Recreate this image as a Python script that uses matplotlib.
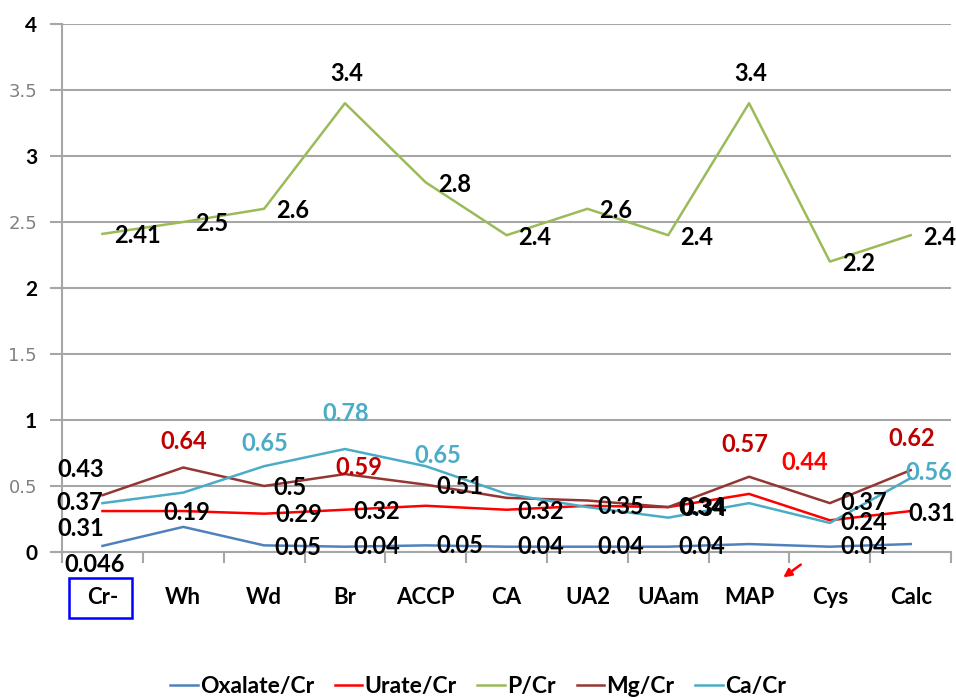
import matplotlib
matplotlib.use('Agg')
import matplotlib.pyplot as plt
from matplotlib.patches import Rectangle, FancyArrowPatch
import numpy as np

### data ----

groups = ['Cr-', 'Wh', 'Wd', 'Br', 'ACCP', 'CA', 'UA2', 'UAam', 'MAP', 'Cys', 'Calc']

oxalate = [0.046, 0.19, 0.05, 0.04, 0.05, 0.04, 0.04, 0.04, 0.06, 0.04, 0.06]
urate = [0.31, 0.31, 0.29, 0.32, 0.35, 0.32, 0.35, 0.34, 0.44, 0.24, 0.31]
phos = [2.41, 2.5, 2.6, 3.4, 2.8, 2.4, 2.6, 2.4, 3.4, 2.2, 2.4]
mg = [0.43, 0.64, 0.5, 0.59, 0.51, 0.41, 0.39, 0.34, 0.57, 0.37, 0.62]
ca = [0.37, 0.45, 0.65, 0.78, 0.65, 0.44, 0.34, 0.26, 0.37, 0.22, 0.56]

# labelled points: (series, index, dx, dy in pixels, colour)
labels = [
    ('mg', 0, -22, 26, 'black'), ('ca', 0, -23, 1, 'black'),
    ('urate', 0, -22, -17, 'black'), ('oxalate', 0, -8, -19, 'black'),
    ('mg', 1, 0, 26, '#C00000'), ('oxalate', 1, 4, 14, 'black'),
    ('ca', 2, 1, 23, '#4BACC6'), ('mg', 2, 26, -2, 'black'),
    ('urate', 2, 35, -1, 'black'), ('oxalate', 2, 34, -2, 'black'),
    ('ca', 3, 1, 36, '#4BACC6'), ('mg', 3, 14, 7, '#C00000'),
    ('urate', 3, 32, -2, 'black'), ('oxalate', 3, 32, 0, 'black'),
    ('ca', 4, 12, 11, '#4BACC6'), ('mg', 4, 34, -2, 'black'),
    ('oxalate', 4, 34, 0, 'black'),
    ('urate', 5, 34, -2, 'black'), ('oxalate', 5, 34, 0, 'black'),
    ('urate', 6, 33, -1, 'black'), ('oxalate', 6, 33, 0, 'black'),
    ('mg', 7, 33, 0, 'black'), ('urate', 7, 35, -1, 'black'),
    ('oxalate', 7, 34, 0, 'black'),
    ('mg', 8, -4, 32, '#C00000'), ('urate', 8, 56, 31, '#FF0000'),
    ('mg', 9, 34, 1, 'black'), ('urate', 9, 34, -2, 'black'),
    ('oxalate', 9, 34, 0, 'black'),
    ('mg', 10, 1, 32, '#C00000'), ('ca', 10, 18, 6, '#4BACC6'),
    ('urate', 10, 21, -2, 'black'),
]

series = {'oxalate': oxalate, 'urate': urate, 'phos': phos, 'mg': mg, 'ca': ca}

### plot ----

plt.rcParams['font.family'] = ['Lato', 'DejaVu Sans']

fig = plt.figure(figsize=(9.56, 6.98), dpi=100)
ax = fig.add_axes([0.0649, 0.2092, 0.93, 0.7564])

x = np.arange(len(groups))
ax.plot(x, oxalate, color='#4F81BD', lw=1.8, label='Oxalate/Cr')
ax.plot(x, urate, color='#FF0000', lw=1.8, label='Urate/Cr')
ax.plot(x, phos, color='#9BBB59', lw=1.8, label='P/Cr')
ax.plot(x, mg, color='#943634', lw=1.8, label='Mg/Cr')
ax.plot(x, ca, color='#4BACC6', lw=1.8, label='Ca/Cr')

# P/Cr labels: right of the point, the two peaks above it
for i, v in enumerate(phos):
    if v >= 3.4:
        ax.annotate(f'{v:g}', (x[i], v), xytext=(2, 30), textcoords='offset pixels',
                    ha='center', va='center', fontsize=17, fontweight='bold')
    else:
        ax.annotate(f'{v:g}', (x[i], v), xytext=(12, -2), textcoords='offset pixels',
                    ha='left', va='center', fontsize=17, fontweight='bold')

for name, i, dx, dy, col in labels:
    v = series[name][i]
    ax.annotate(f'{v:g}', (x[i], v), xytext=(dx, dy), textcoords='offset pixels',
                ha='center', va='center', fontsize=17, fontweight='bold', color=col)

ax.set_xlim(-0.5, len(groups) - 0.5)
ax.set_ylim(0, 4)
yt = np.arange(0, 4.01, 0.5)
ax.set_yticks(yt)
ax.set_yticklabels([f'{t:g}' for t in yt])
for t, lab in zip(yt, ax.get_yticklabels()):
    if t % 1 == 0:
        lab.set_fontweight('bold')
        lab.set_fontsize(15)
    else:
        lab.set_color('#808080')
        lab.set_fontfamily('DejaVu Sans')
        lab.set_fontsize(13)
ax.tick_params(axis='y', length=9, width=1.5, color='#A6A6A6', pad=9)
ax.yaxis.grid(True, color='#A6A6A6', lw=1.5)
ax.set_axisbelow(True)

ax.set_xticks(x)
ax.set_xticklabels(groups, fontsize=16, fontweight='bold')
ax.set_xticks(np.arange(-0.5, len(groups)), minor=True)
ax.tick_params(axis='x', which='major', length=0, pad=25)
ax.tick_params(axis='x', which='minor', length=8, width=1.5, color='#A6A6A6')

for s in ['top', 'right']:
    ax.spines[s].set_visible(False)
for s in ['left', 'bottom']:
    ax.spines[s].set_color('#A6A6A6')
    ax.spines[s].set_linewidth(1.5)

# box round the control group label
fig.patches.append(Rectangle((69 / 956, 1 - 618 / 698), 63 / 956, 40 / 698,
                             transform=fig.transFigure, fill=False,
                             edgecolor='#0000FF', lw=1.8))
# small red arrow by MAP
fig.add_artist(FancyArrowPatch(
    (803 / 956, 1 - 563 / 698), (781 / 956, 1 - 579 / 698),
    transform=fig.transFigure, arrowstyle='-|>', mutation_scale=12,
    color='#FF0000', lw=1.8))

fig.legend(loc='center', bbox_to_anchor=(0.5, 0.017), ncol=5, frameon=False,
           prop={'size': 16.5, 'weight': 'bold'}, handlelength=1.2,
           handletextpad=0.1, columnspacing=0.9)

fig.savefig('out.png', dpi=100)
